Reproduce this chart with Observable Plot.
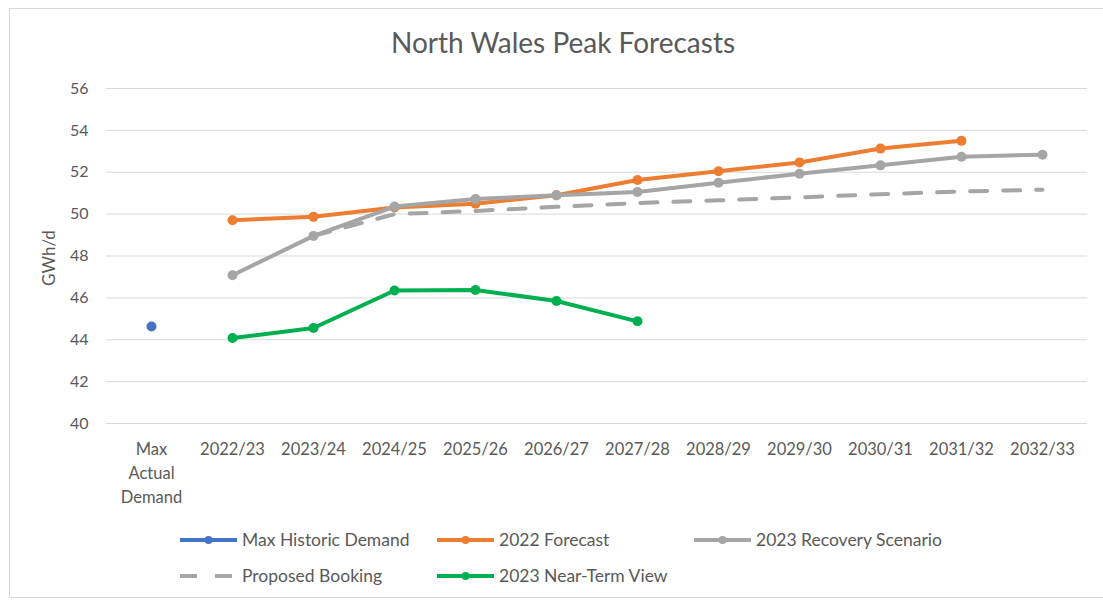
<!DOCTYPE html>
<html><head><meta charset="utf-8">
<script src="https://cdn.jsdelivr.net/npm/d3@7"></script>
<script src="https://cdn.jsdelivr.net/npm/@observablehq/plot@0.6"></script>
<style>
body{margin:0;background:#fff;font-family:Lato,"Open Sans",sans-serif;}
#wrap{position:relative;width:1103px;height:601px;overflow:hidden;background:#fff;}
#frame{position:absolute;left:9px;top:8px;width:1100px;height:590px;border:1px solid #d9d9d9;box-sizing:border-box;}
#title{position:absolute;top:26px;left:0;width:1126px;text-align:center;font-size:28px;color:#595959;line-height:33px;}
#chart{position:absolute;left:0;top:70px;}
#ylabel{position:absolute;left:48px;top:258px;transform:translate(-50%,-50%) rotate(-90deg);font-size:17px;color:#595959;white-space:nowrap;}
#legend{position:absolute;left:0;top:520px;}
</style></head>
<body><div id="wrap"><div id="frame"></div><div id="title">North Wales Peak Forecasts</div><div id="chart"></div><div id="ylabel"></div><svg id="legend" width="1103" height="75"></svg></div>
<script>
const categories = ["Max Actual Demand","2022/23","2023/24","2024/25","2025/26","2026/27","2027/28","2028/29","2029/30","2030/31","2031/32","2032/33"];
const yTicks = [40,42,44,46,48,50,52,54,56];
const maxHistoric     = [44.63, null, null, null, null, null, null, null, null, null, null, null];
const forecast2022    = [null, 49.71, 49.87, 50.32, 50.50, 50.90, 51.63, 52.05, 52.47, 53.13, 53.50, null];
const recovery2023    = [null, 47.08, 48.96, 50.36, 50.72, 50.90, 51.06, 51.50, 51.93, 52.33, 52.74, 52.84];
const proposedBooking = [null, null, 48.96, 50.00, 50.15, 50.35, 50.53, 50.66, 50.80, 50.95, 51.08, 51.17];
const nearTerm2023    = [null, 44.08, 44.56, 46.35, 46.38, 45.85, 44.88, null, null, null, null, null];

const seriesNames = ["Max Historic Demand","2022 Forecast","2023 Recovery Scenario","Proposed Booking","2023 Near-Term View"];
const seriesColors = ["#4472C4","#ED7D31","#A5A5A5","#A5A5A5","#00B050"];
const yLabel = "GWh/d";

function rows(vals){ return vals.map((v,i)=>({cat:categories[i], v})).filter(d=>d.v!=null); }

const txt = "#595959";
const font = "Lato, 'Open Sans', sans-serif";
const chart = Plot.plot({
  width:1103, height:440,
  marginLeft:106, marginRight:16, marginTop:18, marginBottom:87,
  style:{fontFamily:font, background:"transparent"},
  x:{type:"point", domain:categories, padding:0.5},
  y:{domain:[40,56]},
  marks:[
    Plot.ruleY(yTicks, {y:d=>d, stroke:"#d9d9d9", strokeWidth:1}),
    Plot.axisY({ticks:yTicks, tickSize:0, tickPadding:18, fontSize:16, fill:txt, label:null}),
    Plot.axisX({tickSize:0, tickPadding:15, fontSize:16.5, fill:txt, lineHeight:1.45, label:null,
      tickFormat:d=>d.replace(/ /g,"\n")}),
    Plot.line(rows(forecast2022), {x:"cat", y:"v", stroke:seriesColors[1], strokeWidth:4}),
    Plot.dot(rows(forecast2022), {x:"cat", y:"v", fill:seriesColors[1], r:5}),
    Plot.line(rows(recovery2023), {x:"cat", y:"v", stroke:seriesColors[2], strokeWidth:4}),
    Plot.dot(rows(recovery2023), {x:"cat", y:"v", fill:seriesColors[2], r:5}),
    Plot.line(rows(proposedBooking), {x:"cat", y:"v", stroke:seriesColors[3], strokeWidth:4, strokeDasharray:"17,16"}),
    Plot.line(rows(nearTerm2023), {x:"cat", y:"v", stroke:seriesColors[4], strokeWidth:4}),
    Plot.dot(rows(nearTerm2023), {x:"cat", y:"v", fill:seriesColors[4], r:5}),
    Plot.dot(rows(maxHistoric), {x:"cat", y:"v", fill:seriesColors[0], r:5})
  ]
});
document.getElementById("chart").appendChild(chart);
document.getElementById("ylabel").textContent = yLabel;

// legend
const lg = d3.select("#legend");
const items = [
  {i:0, x:180, y:20}, {i:1, x:437, y:20}, {i:2, x:694, y:20},
  {i:3, x:180, y:56}, {i:4, x:437, y:56}
];
items.forEach(it=>{
  const g = lg.append("g");
  const col = seriesColors[it.i];
  if (it.i===3){
    g.append("line").attr("x1",it.x).attr("x2",it.x+56).attr("y1",it.y).attr("y2",it.y)
      .attr("stroke",col).attr("stroke-width",4).attr("stroke-dasharray","17,18");
  } else {
    g.append("line").attr("x1",it.x).attr("x2",it.x+57).attr("y1",it.y).attr("y2",it.y)
      .attr("stroke",col).attr("stroke-width",4);
    g.append("circle").attr("cx",it.x+28.5).attr("cy",it.y).attr("r",4).attr("fill",col);
  }
  g.append("text").attr("x",it.x+62).attr("y",it.y).attr("dy","0.35em")
    .attr("font-size",17.5).attr("fill",txt).attr("font-family",font)
    .text(seriesNames[it.i]);
});
</script></body></html>
